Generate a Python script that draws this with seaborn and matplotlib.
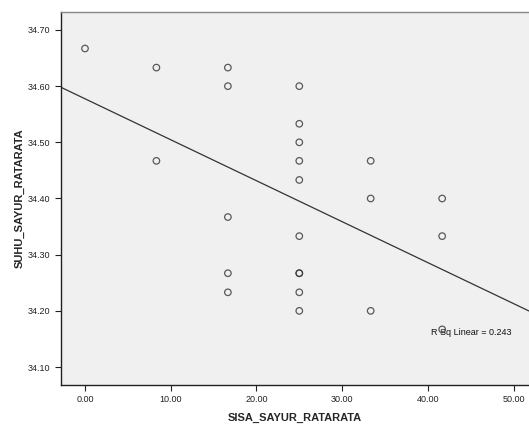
import numpy as np
import pandas as pd
import matplotlib
matplotlib.use("Agg")
import matplotlib.pyplot as plt
import seaborn as sns

sisa = [0.00,
        8.33, 8.33,
        16.67, 16.67, 16.67, 16.67, 16.67,
        25.00, 25.00, 25.00, 25.00, 25.00, 25.00, 25.00, 25.00, 25.00, 25.00,
        33.33, 33.33, 33.33,
        41.67, 41.67, 41.67]
suhu = [34.667,
        34.633, 34.467,
        34.633, 34.600, 34.367, 34.267, 34.233,
        34.600, 34.533, 34.500, 34.467, 34.433, 34.333, 34.267, 34.267, 34.233, 34.200,
        34.467, 34.400, 34.200,
        34.400, 34.333, 34.167]
x_ticks = [0, 10, 20, 30, 40, 50]
y_ticks = [34.10, 34.20, 34.30, 34.40, 34.50, 34.60, 34.70]
r2_label = "R Sq Linear = 0.243"

df = pd.DataFrame({"SISA_SAYUR_RATARATA": sisa, "SUHU_SAYUR_RATARATA": suhu})

sns.set_style("ticks")
plt.rcParams["font.family"] = ["Liberation Sans", "DejaVu Sans"]

fig = plt.figure(figsize=(5.29, 4.25), dpi=100)
ax = fig.add_axes([0.1153, 0.0941, 0.8847, 0.8777])
ax.set_facecolor("#f0f0f0")

# limits first so the fit line runs edge to edge (truncate=False)
ax.set_xlim(-2.8, 51.8)
ax.set_ylim(34.068, 34.732)

sns.regplot(data=df, x="SISA_SAYUR_RATARATA", y="SUHU_SAYUR_RATARATA", ax=ax,
            ci=None, truncate=False,
            scatter_kws=dict(s=22, facecolors="none", edgecolors="#333333", linewidths=0.9),
            line_kws=dict(color="#333333", lw=0.9))

ax.set_xlim(-2.8, 51.8)
ax.set_ylim(34.068, 34.732)
ax.set_xticks(x_ticks)
ax.set_xticklabels([f"{v:.2f}" for v in x_ticks])
ax.set_yticks(y_ticks)
ax.set_yticklabels([f"{v:.2f}" for v in y_ticks])
ax.tick_params(labelsize=6.5, colors="#222222", length=4, width=0.8)

for side in ["left", "bottom"]:
    ax.spines[side].set_color("#222222")
    ax.spines[side].set_linewidth(1.0)
ax.spines["top"].set_color("#888888")
ax.spines["top"].set_linewidth(1.0)
ax.spines["right"].set_visible(False)

ax.set_xlabel("SISA_SAYUR_RATARATA", fontsize=8, fontweight="bold", labelpad=6)
ax.set_ylabel("SUHU_SAYUR_RATARATA", fontsize=8, fontweight="bold", labelpad=2)

ax.text(40.4, 34.162, r2_label, fontsize=6.5, color="#111111", va="center")

fig.savefig("out.png", dpi=100)
